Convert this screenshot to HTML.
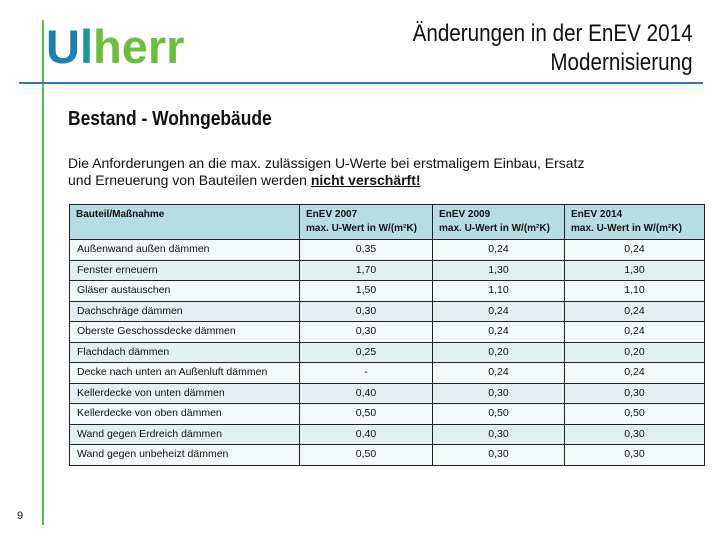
<!DOCTYPE html>
<html><head><meta charset="utf-8">
<style>
body{margin:0;width:720px;height:540px;background:#fff;position:relative;overflow:hidden;font-family:"Liberation Sans",sans-serif;color:#111}
.abs{position:absolute}
table{border-collapse:collapse;position:absolute;left:69px;top:204px;width:635px;font-size:10.5px;table-layout:fixed}
td{border:1px solid #222;padding:0 0 0 7px;height:19.5px;line-height:19.5px;white-space:nowrap;overflow:hidden}
td.v{text-align:center;padding:0}
th{border:1px solid #222;background:#b7dde2;font-weight:bold;text-align:left;vertical-align:top;padding:3px 0 0 6px;height:31px;font-size:10px;line-height:14px;white-space:nowrap;overflow:hidden}
tr.a td{background:#f3f8f9}
tr.b td{background:#e4eff2}
</style></head><body>
<div class="abs" style="left:42px;top:20px;width:2px;height:505px;background:#5cb85a"></div>
<div class="abs" style="left:19px;top:82px;width:684px;height:2px;background:#2a7fa8"></div>
<div class="abs" style="left:46px;top:19px;font-weight:bold;font-size:47px;letter-spacing:0px"><span style="color:#1d7fae">U</span><span style="color:#1b9a8c">l</span><span style="color:#6cbf3c">herr</span></div>
<div class="abs" style="right:27px;top:19px;text-align:right;font-size:24px;line-height:29px;transform:scaleX(0.86);transform-origin:right top;white-space:nowrap">Änderungen in der EnEV 2014<br>Modernisierung</div>
<div class="abs" style="left:68px;top:108px;font-size:20px;font-weight:bold;transform:scaleX(0.87);transform-origin:left top;white-space:nowrap">Bestand - Wohngebäude</div>
<div class="abs" style="left:68px;top:155px;font-size:14px;line-height:17px;white-space:nowrap">Die Anforderungen an die max. zulässigen U-Werte bei erstmaligem Einbau, Ersatz<br>und Erneuerung von Bauteilen werden <b><u>nicht verschärft!</u></b></div>
<table id="t">
<colgroup><col style="width:230px"><col style="width:133px"><col style="width:132px"><col style="width:140px"></colgroup>
<tr><th>Bauteil/Maßnahme</th><th>EnEV 2007<br>max. U-Wert in W/(m²K)</th><th>EnEV 2009<br>max. U-Wert in W/(m²K)</th><th>EnEV 2014<br>max. U-Wert in W/(m²K)</th></tr>
</table>
<div class="abs" style="left:17px;top:510px;font-size:11px">9</div>
<script>
const components=["Außenwand außen dämmen","Fenster erneuern","Gläser austauschen","Dachschräge dämmen","Oberste Geschossdecke dämmen","Flachdach dämmen","Decke nach unten an Außenluft dämmen","Kellerdecke von unten dämmen","Kellerdecke von oben dämmen","Wand gegen Erdreich dämmen","Wand gegen unbeheizt dämmen"];
const enev2007=["0,35","1,70","1,50","0,30","0,30","0,25","-","0,40","0,50","0,40","0,50"];
const enev2009=["0,24","1,30","1,10","0,24","0,24","0,20","0,24","0,30","0,50","0,30","0,30"];
const enev2014=["0,24","1,30","1,10","0,24","0,24","0,20","0,24","0,30","0,50","0,30","0,30"];
const t=document.getElementById('t');
components.forEach((c,i)=>{
  const tr=document.createElement('tr');
  tr.className=i%2?'b':'a';
  
  
  [c,enev2007[i],enev2009[i],enev2014[i]].forEach((v,j)=>{
    const td=document.createElement('td');
    if(j>0)td.className='v';
    td.textContent=v;
    
    
    tr.appendChild(td);
  });
  t.appendChild(tr);
});
</script>
</body></html>
